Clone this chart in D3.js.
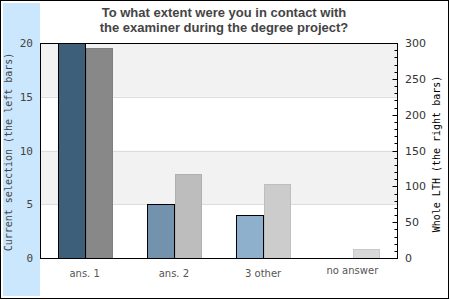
<!DOCTYPE html>
<html>
<head>
<meta charset="utf-8">
<script src="https://cdn.jsdelivr.net/npm/d3@7"></script>
<style>
  body { margin: 0; background: #fff; }
  svg { display: block; }
</style>
</head>
<body>
<div class="chart"></div>
<script>
var categories = ['ans. 1', 'ans. 2', '3 other', 'no answer'];
var selectionValues = [20, 5, 4, 0];
var lthValues = [293, 117, 103, 12];
var leftTicks = [0, 5, 10, 15, 20];
var rightTicks = [0, 50, 100, 150, 200, 250, 300];
var titleLines = ['To what extent were you in contact with', 'the examiner during the degree project?'];

var leftColors = ['#3e5f7a', '#7292ad', '#8eb0cc', '#a9c6dd'];
var rightColors = ['#888888', '#bdbdbd', '#cccccc', '#d8d8d8'];

var W = 450, H = 300;
var plot = {left: 40, right: 397, top: 43, bottom: 258};

var svg = d3.select('.chart').append('svg')
    .attr('width', W)
    .attr('height', H);

// outer frame + blue strip
svg.append('rect')
    .attr('x', 0.5).attr('y', 0.5)
    .attr('width', 448).attr('height', 298)
    .attr('fill', '#fff')
    .attr('stroke', '#000');
svg.append('rect')
    .attr('x', 3).attr('y', 3)
    .attr('width', 37).attr('height', 293)
    .attr('fill', '#cbe7fd');

var x = d3.scaleBand().domain(categories).range([plot.left, plot.right]);
var yL = d3.scaleLinear().domain([0, 20]).range([plot.bottom, plot.top]);
var yR = d3.scaleLinear().domain([0, 300]).range([plot.bottom, plot.top]);

// alternating bands
[[15, 20], [5, 10]].forEach(function (b) {
  svg.append('rect')
      .attr('x', plot.left).attr('y', yL(b[1]))
      .attr('width', plot.right - plot.left)
      .attr('height', yL(b[0]) - yL(b[1]))
      .attr('fill', '#f2f2f2');
});

svg.selectAll('.grid')
    .data([5, 10, 15])
    .enter().append('line')
    .attr('class', 'grid')
    .attr('x1', plot.left).attr('x2', plot.right)
    .attr('y1', function (d) { return Math.round(yL(d)) + 0.5; })
    .attr('y2', function (d) { return Math.round(yL(d)) + 0.5; })
    .attr('stroke', '#dddddd');

var barW = 27;

// right (whole LTH) bars
svg.selectAll('.rbar')
    .data(lthValues)
    .enter().append('rect')
    .attr('class', 'rbar')
    .attr('x', function (d, i) { return Math.round(x(categories[i]) + x.bandwidth() / 2) + 1.5; })
    .attr('y', function (d) { return Math.round(yR(d)) + 0.5; })
    .attr('width', barW - 1)
    .attr('height', function (d) { return plot.bottom - Math.round(yR(d)); })
    .attr('fill', function (d, i) { return rightColors[i]; })
    .attr('stroke', function (d, i) { return d3.color(rightColors[i]).darker(0.2); });

// left (current selection) bars
svg.selectAll('.lbar')
    .data(selectionValues)
    .enter().filter(function (d) { return d > 0; }).append('rect')
    .attr('class', 'lbar')
    .attr('x', function (d, i) { return Math.round(x(categories[i]) + x.bandwidth() / 2) - barW + 0.5; })
    .attr('y', function (d) { return Math.round(yL(d)) + 0.5; })
    .attr('width', barW)
    .attr('height', function (d) { return plot.bottom - Math.round(yL(d)); })
    .attr('fill', function (d, i) { return leftColors[i]; })
    .attr('stroke', '#000');

// plot frame
svg.append('rect')
    .attr('x', plot.left + 0.5).attr('y', plot.top + 0.5)
    .attr('width', plot.right - plot.left)
    .attr('height', plot.bottom - plot.top)
    .attr('fill', 'none')
    .attr('stroke', '#000');

// left axis labels
svg.selectAll('.ltick')
    .data(leftTicks)
    .enter().append('text')
    .attr('class', 'ltick')
    .attr('x', 33)
    .attr('y', function (d) { return yL(d) + 4; })
    .attr('text-anchor', 'end')
    .attr('font-family', 'DejaVu Sans Mono')
    .attr('font-size', 11)
    .attr('fill', '#444')
    .text(function (d) { return d; });

// right axis: ticks inside, minor every 10
var rAxis = svg.append('g').attr('transform', 'translate(' + (plot.right + 0.5) + ',0)');
rAxis.selectAll('.minor')
    .data(d3.range(0, 301, 10))
    .enter().append('line')
    .attr('x1', function (d) { return d % 50 === 0 ? -5 : -3; })
    .attr('x2', 0)
    .attr('y1', function (d) { return Math.round(yR(d)) + 0.5; })
    .attr('y2', function (d) { return Math.round(yR(d)) + 0.5; })
    .attr('stroke', '#000');
svg.selectAll('.rtick')
    .data(rightTicks)
    .enter().append('text')
    .attr('class', 'rtick')
    .attr('x', 405)
    .attr('y', function (d) { return yR(d) + 4; })
    .attr('font-family', 'DejaVu Sans')
    .attr('font-size', 11)
    .attr('fill', '#333')
    .text(function (d) { return d; });

// category labels
svg.selectAll('.cat')
    .data(categories)
    .enter().append('text')
    .attr('class', 'cat')
    .attr('x', function (d) { return x(d) + x.bandwidth() / 2; })
    .attr('y', function (d, i) { return i === 3 ? 274 : 277; })
    .attr('text-anchor', 'middle')
    .attr('font-family', 'DejaVu Sans')
    .attr('font-size', 10)
    .attr('fill', '#555')
    .text(function (d) { return d; });

// axis titles
svg.append('text')
    .attr('transform', 'translate(12,' + 152 + ') rotate(-90)')
    .attr('text-anchor', 'middle')
    .attr('font-family', 'DejaVu Sans Mono')
    .attr('font-size', 10)
    .attr('fill', '#444')
    .text('Current selection (the left bars)');
svg.append('text')
    .attr('transform', 'translate(440,' + 154 + ') rotate(-90)')
    .attr('text-anchor', 'middle')
    .attr('font-family', 'DejaVu Sans Mono')
    .attr('font-size', 10)
    .attr('fill', '#000')
    .text('Whole LTH (the right bars)');

// title
svg.selectAll('.title')
    .data(titleLines)
    .enter().append('text')
    .attr('class', 'title')
    .attr('x', 224)
    .attr('y', function (d, i) { return 17 + i * 15; })
    .attr('text-anchor', 'middle')
    .attr('font-family', 'Liberation Sans, Arial, sans-serif')
    .attr('font-weight', 'bold')
    .attr('font-size', 13)
    .attr('fill', '#444')
    .text(function (d) { return d; });
</script>
</body>
</html>
